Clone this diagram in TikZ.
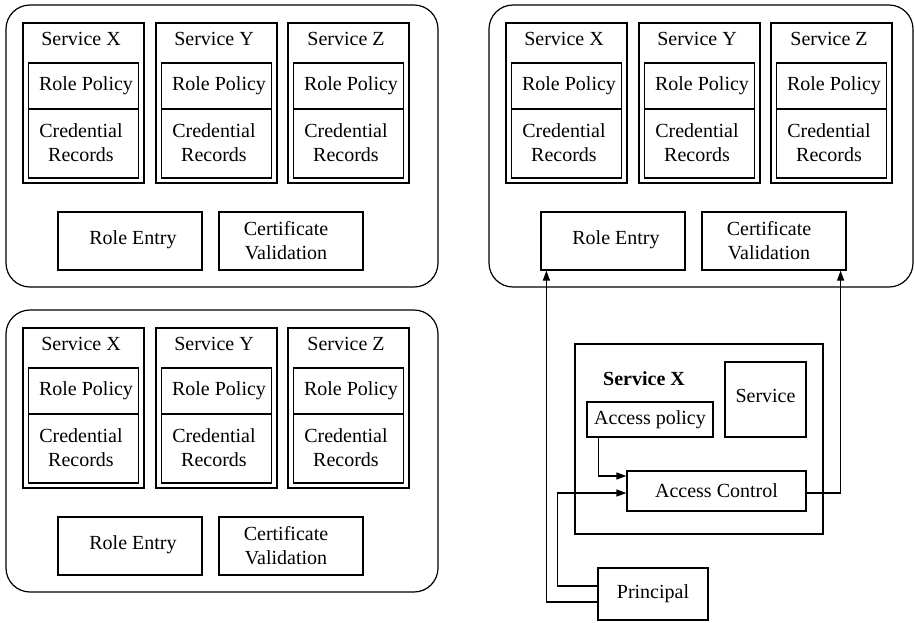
\documentclass[tikz,border=0pt]{standalone}
\usepackage{fontspec}
\setmainfont{Liberation Serif}[Ligatures=TeX]
\newfontfamily\diagfont{Liberation Serif}
\usetikzlibrary{arrows.meta}

\tikzset{
  every node/.style={font=\diagfont\fontsize{20}{24}\selectfont},
  box/.style={draw, rectangle, inner sep=0pt, line width=1.2pt, align=center},
  lbl/.style={inner sep=0pt, align=center},
  panel/.style={draw, rectangle, rounded corners=24pt, line width=1.2pt, inner sep=0pt},
  link/.style={line width=1.2pt, -{Triangle[length=10pt,width=7pt]}},
}

% One credential store: three services with their policy and records,
% plus the role entry and certificate validation components.
% #1 = right edge of the rounded frame
\newcommand\credpanel[1]{%
  \node[panel, minimum width={#1-6}, minimum height=282] (frame) at ({(6+#1)/2},146) {};
  \foreach \s/\x in {X/23, Y/156, Z/288} {
    \node[box, minimum width=121, minimum height=160] (svc\s) at (\x+60.5,103) {};
    \node[lbl] (title\s) at (\x+58,39) {Service \s};
    \node[box, minimum width=110, minimum height=46] (pol\s) at (\x+60.5,86) {};
    \node[lbl] (poltext\s) at (\x+63,86) {Role Policy};
    \node[box, minimum width=110, minimum height=69] (rec\s) at (\x+60.5,143.5) {};
    \node[lbl] (rectext\s) at (\x+58,143) {Credential\\Records};
  }
  \node[box, minimum width=144, minimum height=58] (re) at (130,241) {};
  \node[lbl] (retext) at (133,240) {Role Entry};
  \node[box, minimum width=144, minimum height=58] (cv) at (291,241) {};
  \node[lbl] (cvtext) at (286,241) {Certificate\\Validation};
}

\begin{document}
\begin{tikzpicture}[x=1pt, y=-1pt]
  \useasboundingbox (0,0) rectangle (915,622);

  \begin{scope}[name prefix=tl-]
    \credpanel{438}
  \end{scope}
  \begin{scope}[shift={(0,305)}, name prefix=bl-]
    \credpanel{438}
  \end{scope}
  \begin{scope}[shift={(483,0)}, name prefix=tr-]
    \credpanel{430}
  \end{scope}

  % Service X with its access control
  \node[box, minimum width=248, minimum height=190] (sx) at (699,439) {};
  \node[lbl, font=\diagfont\fontsize{20}{24}\selectfont\bfseries] (sxtitle) at (644,379) {Service X};
  \node[box, minimum width=81, minimum height=75] (svc) at (765.5,399.5) {};
  \node[lbl] (svctext) at (765.5,396) {Service};
  \node[box, minimum width=126, minimum height=35] (ap) at (650,419.5) {Access policy};
  \node[box, minimum width=179, minimum height=40] (ac) at (716.5,491) {Access Control};
  \node[box, minimum width=110, minimum height=52] (pr) at (653,594) {Principal};

  % connectors
  \draw[link] ([xshift=12pt]ap.south west) |- ([yshift=15pt]ac.west);
  \draw[link] ([yshift=8pt]pr.west) -- ++(-40,0) |- ([yshift=-2pt]ac.west);
  \draw[link] ([yshift=-8pt]pr.west) -| ([xshift=6pt]tr-re.south west);
  \draw[link] ([yshift=-2pt]ac.east) -| ([xshift=-6pt]tr-cv.south east);
\end{tikzpicture}
\end{document}
